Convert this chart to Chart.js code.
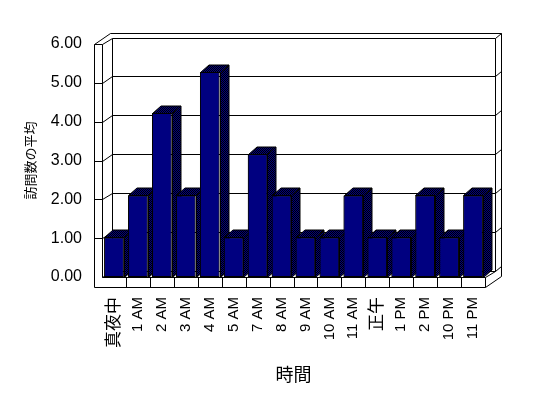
<!DOCTYPE html>
<html>
<head>
<meta charset="utf-8">
<script src="https://cdn.jsdelivr.net/npm/chart.js@4.4.1/dist/chart.umd.min.js"></script>
<style>
  html, body { margin:0; padding:0; background:#fff; }
  #wrap { width:548px; height:398px; }
</style>
</head>
<body>
<div id="wrap"><canvas id="chart" width="548" height="398"></canvas></div>
<script>
// data
const hours = ["真夜中","1 AM","2 AM","3 AM","4 AM","5 AM","7 AM","8 AM","9 AM","10 AM","11 AM","正午","1 PM","2 PM","10 PM","11 PM"];
const avgVisits = [1.02, 2.1, 4.22, 2.1, 5.28, 1.02, 3.16, 2.1, 1.02, 1.02, 2.1, 1.02, 1.02, 2.1, 1.02, 2.1];
const yTickValues = [0, 1, 2, 3, 4, 5, 6];
const yTitle = "訪問数の平均";
const xTitle = "時間";

// 3D look (screen px)
const WALL = 8;                      // left wall thickness
const FLOOR = 10;                    // floor front face height
const DEPTH = { x: 9.5, y: -6.5 };   // front -> back wall inner face
const OUTER = { x: 15.5, y: -11.5 }; // front -> back wall outer face
const BAR = { x: 8.5, y: -7.5 };     // bar depth

const FONT = "'Liberation Sans', Arial, 'Noto Sans CJK JP', sans-serif";
const NAVY = "#000080";

let shade = null;
function getShade(ctx){
  if(shade) return shade;
  const pc = document.createElement("canvas");
  pc.width = 2; pc.height = 2;
  const p = pc.getContext("2d");
  p.fillStyle = NAVY; p.fillRect(0,0,2,2);
  p.fillStyle = "#000"; p.fillRect(0,0,1,1); p.fillRect(1,1,1,1);
  shade = ctx.createPattern(pc, "repeat");
  return shade;
}

const px = v => Math.round(v) + 0.5;
function line(ctx, x1, y1, x2, y2){
  ctx.beginPath();
  ctx.moveTo(px(x1), px(y1));
  ctx.lineTo(px(x2), px(y2));
  ctx.stroke();
}

// walls, floor and gridlines behind the bars
const box3d = {
  id: "box3d",
  beforeDatasetsDraw(chart){
    const { ctx, chartArea: a, scales: { x, y } } = chart;
    const L = a.left, R = a.right, T = a.top, B = a.bottom;
    ctx.save();
    ctx.strokeStyle = "#000";
    ctx.lineWidth = 1;

    // left wall
    line(ctx, L - WALL, T, L - WALL, B + FLOOR);
    line(ctx, L, T, L, B);
    line(ctx, L - WALL, T, L - WALL + OUTER.x, T + OUTER.y);
    // back wall
    line(ctx, L + DEPTH.x, T + DEPTH.y, L + DEPTH.x, B + DEPTH.y);
    line(ctx, R + DEPTH.x, T + DEPTH.y, R + DEPTH.x, B + DEPTH.y);
    line(ctx, L - WALL + OUTER.x, T + OUTER.y, R + OUTER.x, T + OUTER.y);
    line(ctx, R + OUTER.x, T + OUTER.y, R + OUTER.x, B + FLOOR + OUTER.y);

    // gridlines wrap round the walls
    yTickValues.forEach(v => {
      const yy = y.getPixelForValue(v);
      if(v > 0) line(ctx, L - WALL, yy, L, yy);
      line(ctx, L, yy, L + DEPTH.x, yy + DEPTH.y);
      line(ctx, L + DEPTH.x, yy + DEPTH.y, R + DEPTH.x, yy + DEPTH.y);
      line(ctx, R + DEPTH.x, yy + DEPTH.y, R + OUTER.x, yy + OUTER.y);
    });

    // floor
    line(ctx, L, B, R, B);
    line(ctx, L - WALL, B + FLOOR, R, B + FLOOR);
    line(ctx, R, B, R, B + FLOOR);
    line(ctx, R, B, R + DEPTH.x, B + DEPTH.y);
    line(ctx, R, B + FLOOR, R + OUTER.x, B + FLOOR + OUTER.y);
    for(let i = 0; i < hours.length - 1; i++){
      const bx = (x.getPixelForValue(i) + x.getPixelForValue(i + 1)) / 2;
      line(ctx, bx, B, bx, B + FLOOR);
    }
    ctx.restore();
  },
  afterDatasetsDraw(chart){
    const ctx = chart.ctx;
    const meta = chart.getDatasetMeta(0);
    ctx.save();
    ctx.strokeStyle = "#000";
    ctx.lineWidth = 1;
    meta.data.forEach(el => {
      const { x, y, base, width } = el.getProps(["x","y","base","width"], true);
      const l = Math.round(x - width / 2), r = Math.round(x + width / 2);
      const t = Math.round(y), b = Math.round(base);
      ctx.fillStyle = getShade(ctx);
      // side
      ctx.beginPath();
      ctx.moveTo(r + 0.5, t + 0.5);
      ctx.lineTo(r + BAR.x + 0.5, t + BAR.y + 0.5);
      ctx.lineTo(r + BAR.x + 0.5, b + BAR.y + 0.5);
      ctx.lineTo(r + 0.5, b + 0.5);
      ctx.closePath();
      ctx.fill(); ctx.stroke();
      // top
      ctx.beginPath();
      ctx.moveTo(l + 0.5, t + 0.5);
      ctx.lineTo(l + BAR.x + 0.5, t + BAR.y + 0.5);
      ctx.lineTo(r + BAR.x + 0.5, t + BAR.y + 0.5);
      ctx.lineTo(r + 0.5, t + 0.5);
      ctx.closePath();
      ctx.fill(); ctx.stroke();
      // front face again so it covers the previous bar's side
      el.draw(ctx, chart.chartArea);
    });
    ctx.restore();
  }
};

const isCJK = s => /[^\x00-\x7f]/.test(s);

const ctx = document.getElementById("chart").getContext("2d");
new Chart(ctx, {
  type: "bar",
  data: {
    labels: hours,
    datasets: [{
      data: avgVisits,
      backgroundColor: NAVY,
      borderColor: "#000",
      borderWidth: 1,
      borderSkipped: false,
      barPercentage: 1,
      categoryPercentage: 0.82
    }]
  },
  options: {
    responsive: false,
    animation: false,
    devicePixelRatio: 1,
    layout: { padding: { left: 0, right: 63, top: 44, bottom: 0 } },
    plugins: { legend: { display: false }, tooltip: { enabled: false } },
    scales: {
      x: {
        grid: { display: false, drawTicks: false },
        border: { display: false },
        ticks: {
          color: "#000",
          font: c => ({ family: FONT, size: isCJK(hours[c.index] || "") ? 17 : 15 }),
          minRotation: 90, maxRotation: 90, autoSkip: false, padding: 20
        },
        title: { display: true, text: xTitle, color: "#000", font: { family: FONT, size: 18 }, padding: { top: 0, bottom: 11 } },
        afterFit: s => { s.height = 121; }
      },
      y: {
        min: 0, max: 6,
        afterBuildTicks: s => { s.ticks = yTickValues.map(v => ({ value: v })); },
        grid: { display: false, drawTicks: false },
        border: { display: false },
        ticks: { color: "#000", font: { family: FONT, size: 16 }, padding: 20, callback: v => Number(v).toFixed(2) },
        title: { display: true, text: yTitle, color: "#000", font: { family: FONT, size: 13 }, padding: { top: 24, bottom: 0 } },
        afterFit: s => { s.width = 102; }
      }
    }
  },
  plugins: [box3d]
});
</script>
</body>
</html>
